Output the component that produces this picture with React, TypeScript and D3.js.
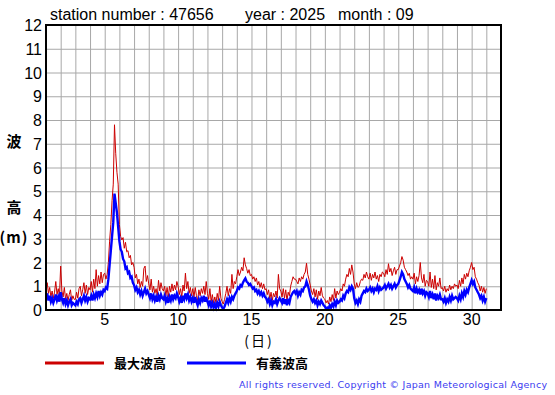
import React from 'react'
import * as d3 from 'd3'

// station / period header
const stationText = 'station number : 47656'
const yearText = 'year : 2025'
const monthText = 'month : 09'

// 2-hourly samples from day 1 00h to day 31 00h (one row per day)
const stepHours = 2
const startDay = 1

const maxWave = [
	1.0, 1.15, 0.7, 0.95, 0.55, 0.8, 0.5, 0.75, 1.2, 0.65, 0.9, 0.6,
	1.85, 0.8, 0.55, 0.95, 0.45, 0.7, 0.4, 0.65, 0.85, 0.4, 0.6, 0.45,
	0.45, 0.75, 0.5, 0.9, 1.0, 0.6, 0.85, 1.15, 0.7, 1.05, 0.65, 0.95,
	0.85, 1.2, 0.75, 1.3, 0.9, 1.7, 1.0, 1.45, 1.1, 1.6, 1.15, 1.5,
	1.55, 1.3, 1.5, 2.0, 2.9, 3.6, 4.6, 5.3, 7.8, 6.6, 5.8, 5.3,
	3.6, 3.1, 2.95, 3.05, 2.6, 2.85, 2.45, 2.5, 2.2, 2.3, 1.9, 2.0,
	1.8, 1.35, 1.5, 1.1, 1.3, 0.95, 1.2, 1.0, 1.75, 1.85, 1.2, 1.45,
	1.1, 0.85, 1.3, 0.75, 1.0, 0.7, 0.9, 0.6, 1.25, 0.8, 1.15, 0.9,
	0.8, 1.0, 0.6, 0.95, 0.55, 1.0, 0.75, 1.1, 0.8, 1.05, 0.85, 1.2,
	1.0, 0.65, 0.9, 0.55, 1.05, 0.8, 1.55, 0.9, 1.2, 0.7, 0.95, 0.6,
	0.9, 0.55, 0.95, 0.6, 0.4, 0.85, 0.6, 0.9, 0.7, 1.0, 0.65, 1.2,
	0.7, 0.45, 0.9, 0.35, 0.65, 0.3, 0.55, 0.3, 0.7, 0.4, 1.0, 0.5,
	0.35, 0.25, 0.45, 0.7, 1.0, 0.6, 0.9, 0.7, 1.5, 0.9, 1.2, 1.1,
	1.4, 1.7, 1.45, 1.6, 1.8, 1.65, 2.2, 1.9, 1.75, 1.55, 1.7, 1.45,
	1.5, 1.3, 1.4, 1.2, 1.35, 1.05, 1.2, 0.95, 1.15, 0.9, 1.1, 0.85,
	0.9, 0.65, 0.85, 0.45, 0.75, 0.4, 0.7, 0.55, 0.8, 0.5, 1.5, 0.9,
	0.8, 0.55, 0.9, 0.5, 0.85, 0.4, 0.75, 0.6, 1.0, 1.2, 1.4, 1.3,
	1.3, 1.2, 1.1, 1.35, 1.2, 1.4, 1.3, 1.5, 1.6, 1.97, 1.5, 1.3,
	1.05, 0.8, 0.65, 0.9, 0.55, 0.85, 0.45, 0.8, 0.6, 0.95, 0.6, 0.5,
	0.45, 0.3, 0.4, 0.25, 0.55, 0.35, 0.65, 0.4, 0.9, 0.5, 0.8, 0.65,
	0.75, 0.9, 0.8, 1.1, 1.0, 1.3, 1.5, 1.4, 1.75, 1.5, 1.9, 1.6,
	1.1, 0.9, 1.15, 0.95, 1.0, 1.2, 1.3, 1.25, 1.5, 1.35, 1.6, 1.4,
	1.3, 1.55, 1.25, 1.5, 1.35, 1.6, 1.3, 1.45, 1.2, 1.5, 1.4, 1.6,
	1.55, 1.4, 1.7, 1.5, 1.95, 1.6, 1.75, 1.45, 1.65, 1.8, 1.5, 1.7,
	1.7, 1.85, 2.0, 2.25, 2.1, 1.8, 1.7, 1.6, 1.45, 1.55, 1.3, 1.4,
	1.3, 1.55, 1.1, 1.4, 1.2, 1.45, 2.0, 1.35, 1.15, 1.5, 1.0, 1.25,
	1.2, 1.0, 1.6, 0.95, 1.3, 0.9, 1.45, 0.85, 1.15, 1.0, 1.35, 0.9,
	0.95, 0.8, 1.0, 0.75, 0.9, 0.8, 1.05, 0.85, 1.0, 0.9, 1.1, 1.0,
	1.05, 0.9, 1.25, 1.0, 1.35, 1.1, 1.5, 1.3, 1.55, 1.4, 1.65, 1.8,
	2.0, 1.7, 1.8, 1.4, 1.3, 1.15, 1.05, 0.8, 1.0, 0.75, 0.95, 0.7,
	0.9,
]

const sigWave = [
	0.55, 0.7, 0.4, 0.6, 0.35, 0.5, 0.3, 0.45, 0.65, 0.4, 0.55, 0.35,
	0.75, 0.45, 0.3, 0.5, 0.25, 0.4, 0.2, 0.35, 0.45, 0.2, 0.3, 0.25,
	0.2, 0.35, 0.25, 0.45, 0.5, 0.3, 0.45, 0.6, 0.4, 0.55, 0.35, 0.5,
	0.45, 0.6, 0.4, 0.65, 0.5, 0.7, 0.55, 0.8, 0.6, 0.75, 0.65, 0.85,
	0.8, 0.95, 0.9, 1.3, 1.9, 2.5, 3.1, 3.7, 4.9, 4.5, 4.1, 3.5,
	2.9, 2.55, 2.45, 2.15, 2.05, 1.75, 1.8, 1.55, 1.6, 1.35, 1.4, 1.15,
	1.05, 0.85, 0.95, 0.75, 0.85, 0.65, 0.8, 0.6, 0.75, 0.9, 0.7, 0.8,
	0.65, 0.5, 0.7, 0.45, 0.6, 0.4, 0.55, 0.35, 0.6, 0.45, 0.65, 0.5,
	0.45, 0.6, 0.35, 0.5, 0.3, 0.55, 0.4, 0.65, 0.45, 0.6, 0.5, 0.7,
	0.55, 0.35, 0.5, 0.3, 0.6, 0.45, 0.7, 0.5, 0.65, 0.4, 0.55, 0.35,
	0.5, 0.3, 0.55, 0.35, 0.2, 0.45, 0.3, 0.5, 0.4, 0.6, 0.35, 0.55,
	0.35, 0.2, 0.4, 0.15, 0.3, 0.1, 0.25, 0.1, 0.3, 0.15, 0.35, 0.2,
	0.1, 0.05, 0.15, 0.3, 0.45, 0.3, 0.5, 0.35, 0.55, 0.45, 0.6, 0.7,
	0.8, 0.95, 0.9, 1.05, 1.0, 1.15, 1.25, 1.33, 1.2, 1.15, 1.05, 1.1,
	1.0, 0.9, 0.95, 0.8, 0.85, 0.7, 0.8, 0.65, 0.75, 0.6, 0.7, 0.55,
	0.5, 0.35, 0.45, 0.25, 0.4, 0.2, 0.35, 0.3, 0.45, 0.25, 0.4, 0.5,
	0.4, 0.3, 0.5, 0.25, 0.45, 0.2, 0.4, 0.3, 0.55, 0.65, 0.75, 0.8,
	0.7, 0.8, 0.6, 0.75, 0.65, 0.85, 0.8, 0.95, 1.0, 1.2, 1.05, 0.85,
	0.6, 0.45, 0.35, 0.45, 0.3, 0.4, 0.2, 0.35, 0.25, 0.4, 0.3, 0.2,
	0.15, 0.05, 0.1, 0.05, 0.2, 0.1, 0.25, 0.15, 0.35, 0.2, 0.4, 0.3,
	0.35, 0.45, 0.4, 0.6, 0.5, 0.7, 0.8, 0.75, 0.95, 0.85, 1.0, 0.9,
	0.5, 0.3, 0.4, 0.25, 0.45, 0.35, 0.6, 0.7, 0.8, 0.75, 0.9, 0.8,
	0.85, 0.95, 0.8, 0.9, 0.75, 0.9, 0.85, 1.0, 0.8, 0.95, 0.85, 0.9,
	0.95, 1.05, 0.9, 1.0, 1.1, 0.95, 1.05, 0.9, 1.0, 1.1, 0.95, 1.05,
	1.1, 1.25, 1.4, 1.6, 1.5, 1.3, 1.2, 1.1, 0.95, 1.05, 0.9, 0.85,
	0.8, 0.95, 0.7, 0.9, 0.75, 0.85, 0.65, 0.9, 0.7, 0.8, 0.6, 0.75,
	0.7, 0.55, 0.8, 0.5, 0.65, 0.45, 0.7, 0.4, 0.6, 0.5, 0.65, 0.45,
	0.45, 0.35, 0.5, 0.3, 0.45, 0.35, 0.55, 0.4, 0.6, 0.45, 0.5, 0.55,
	0.5, 0.4, 0.6, 0.45, 0.7, 0.55, 0.8, 0.65, 0.85, 0.75, 0.95, 1.1,
	1.25, 1.1, 1.2, 0.95, 0.85, 0.75, 0.65, 0.5, 0.6, 0.4, 0.55, 0.35,
	0.5,
]

const yTicks = [0, 1, 2, 3, 4, 5, 6, 7, 8, 9, 10, 11, 12]
const xTicks = [5, 10, 15, 20, 25, 30]
const dayGrid = d3.range(1, 33)
const legendItems = [
	{ label: '最大波高', color: '#cc0000' },
	{ label: '有義波高', color: '#0000ff' },
]

const W = 555
const H = 395
const left = 46
const right = 501
const top = 25
const bottom = 310

const x = d3.scaleLinear().domain([1, 32]).range([left, right])
const y = d3.scaleLinear().domain([0, 12]).range([bottom, top])

const toPoints = (vals: number[]) =>
	vals.map((v, i) => [startDay + (i * stepHours) / 24, v] as [number, number])

const line = d3
	.line<[number, number]>()
	.x((d) => x(d[0]))
	.y((d) => y(d[1]))

const sansFont = '"Liberation Sans", Arial, sans-serif'
const cjkFont = '"Noto Sans CJK JP", sans-serif'

export default function App() {
	return (
		<svg
			width={W}
			height={H}
			style={{ position: 'absolute', left: 0, top: 0, background: '#fff' }}
		>
			{/* header */}
			<g fontFamily={sansFont} fontSize={16} fill="#000">
				<text x={50} y={20}>{stationText}</text>
				<text x={245} y={20}>{yearText}</text>
				<text x={338} y={20}>{monthText}</text>
			</g>

			{/* grid */}
			<g stroke="#a8a8a8" strokeWidth={1}>
				{dayGrid.map((d) => (
					<line key={'v' + d} x1={x(d) + 0.5} x2={x(d) + 0.5} y1={top} y2={bottom} />
				))}
				{yTicks.map((t) => (
					<line key={'h' + t} x1={left} x2={right} y1={y(t) + 0.5} y2={y(t) + 0.5} />
				))}
			</g>

			{/* series */}
			<path d={line(toPoints(maxWave)) || ''} fill="none" stroke="#cc0000" strokeWidth={1} />
			<path d={line(toPoints(sigWave)) || ''} fill="none" stroke="#0000ff" strokeWidth={2.4} />

			{/* frame */}
			<rect x={left} y={top} width={right - left} height={bottom - top} fill="none" stroke="#000" strokeWidth={2} />

			{/* y tick labels */}
			<g fontFamily={sansFont} fontSize={16} textAnchor="end">
				{yTicks.map((t) => (
					<text key={t} x={42} y={y(t) + 6}>{t}</text>
				))}
			</g>

			{/* x tick labels */}
			<g fontFamily={sansFont} fontSize={16} textAnchor="middle">
				{xTicks.map((t) => (
					<text key={t} x={x(t)} y={325}>{t}</text>
				))}
			</g>
			<text x={259} y={346} fontFamily={cjkFont} fontSize={14} textAnchor="middle" letterSpacing={2}>(日)</text>

			{/* y axis title */}
			<g fontFamily={cjkFont} fontSize={15} fontWeight="bold" textAnchor="middle">
				<text x={14} y={147}>波</text>
				<text x={14} y={213}>高</text>
				<text x={14} y={243} letterSpacing={1}>(m)</text>
			</g>

			{/* legend */}
			{legendItems.map((it, i) => (
				<g key={it.label} transform={`translate(${45 + i * 142}, 363)`}>
					<line x1={0} x2={59} y1={0} y2={0} stroke={it.color} strokeWidth={3} />
					<text x={69} y={5} fontFamily={cjkFont} fontSize={13} fontWeight="bold">{it.label}</text>
				</g>
			))}

			{/* footer */}
			<text
				x={239}
				y={388}
				fontFamily='"DejaVu Sans", Verdana, sans-serif'
				fontSize={9.5}
				fill="#3c3cf0"
				textLength={308}
				lengthAdjust="spacing"
			>
				All rights reserved. Copyright © Japan Meteorological Agency
			</text>
		</svg>
	)
}
